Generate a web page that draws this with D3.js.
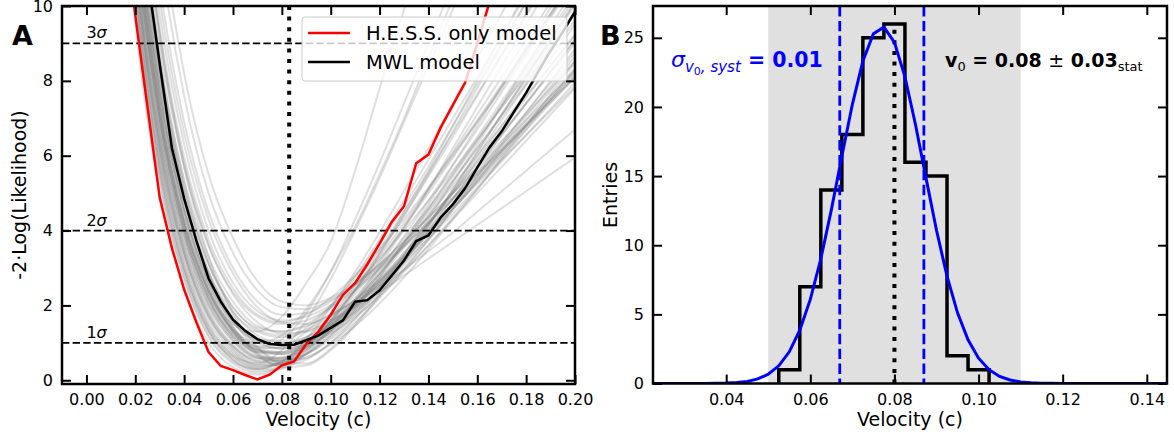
<!DOCTYPE html>
<html>
<head>
<meta charset="utf-8">
<script src="https://cdn.jsdelivr.net/npm/d3@7"></script>
<style>
  body { margin: 0; background: #fff; }
  text { font-family: "DejaVu Sans", sans-serif; fill: #000; }
</style>
</head>
<body>
<svg id="chart" width="1174" height="438"></svg>
<script>
// ---- Panel A data: likelihood profiles ----
const scanVelocity = [0.01, 0.02, 0.03, 0.04, 0.05, 0.06, 0.07, 0.08, 0.09, 0.10,
                      0.11, 0.12, 0.13, 0.14, 0.15, 0.16, 0.17, 0.18, 0.19, 0.20];
// simulated MWL scans (gray band)
const mcScans = [
  [19, 10.5, 5.6, 2.9, 1.3, 0.6, 0.35, 0.45, 0.9, 1.6, 2.4, 3.3, 4.2, 5.1, 6.0, 6.9, 7.8, 8.8, 9.8, 10.8],
  [20, 11.2, 6.3, 3.4, 1.7, 0.9, 0.55, 0.6, 0.95, 1.5, 2.2, 3.0, 3.8, 4.6, 5.5, 6.4, 7.3, 8.2, 9.1, 10.0],
  [21, 12.0, 7.0, 4.0, 2.2, 1.2, 0.8, 0.75, 1.0, 1.45, 2.0, 2.7, 3.4, 4.2, 5.0, 5.8, 6.6, 7.4, 8.2, 9.0],
  [22, 12.8, 7.6, 4.5, 2.6, 1.55, 1.05, 0.95, 1.15, 1.55, 2.05, 2.65, 3.3, 4.0, 4.7, 5.4, 6.1, 6.8, 7.5, 8.2],
  [23, 13.6, 8.3, 5.1, 3.1, 1.95, 1.35, 1.2, 1.35, 1.7, 2.15, 2.7, 3.3, 3.95, 4.6, 5.25, 5.9, 6.55, 7.2, 7.85],
  [24, 14.5, 9.0, 5.7, 3.6, 2.35, 1.7, 1.5, 1.6, 1.95, 2.4, 2.95, 3.55, 4.2, 4.85, 5.5, 6.15, 6.8, 7.45, 8.1],
  [18, 9.6, 5.0, 2.5, 1.0, 0.35, 0.15, 0.35, 0.85, 1.55, 2.4, 3.4, 4.5, 5.6, 6.8, 8.0, 9.2, 10.4, 11.6, 12.8],
  [19.5, 10.8, 5.9, 3.1, 1.45, 0.65, 0.3, 0.35, 0.75, 1.35, 2.1, 2.95, 3.85, 4.8, 5.75, 6.7, 7.7, 8.7, 9.7, 10.7],
  [20.5, 11.5, 6.5, 3.6, 1.85, 0.95, 0.5, 0.45, 0.7, 1.15, 1.75, 2.45, 3.2, 4.0, 4.85, 5.7, 6.55, 7.4, 8.25, 9.1],
  [21.5, 12.3, 7.2, 4.2, 2.35, 1.3, 0.8, 0.7, 0.9, 1.3, 1.85, 2.5, 3.2, 3.95, 4.75, 5.55, 6.35, 7.15, 7.95, 8.75],
  [22.5, 13.0, 7.9, 4.8, 2.85, 1.7, 1.1, 0.95, 1.1, 1.45, 1.95, 2.55, 3.2, 3.9, 4.6, 5.35, 6.1, 6.85, 7.6, 8.35],
  [25, 15.5, 9.8, 6.3, 4.0, 2.6, 1.85, 1.6, 1.7, 2.0, 2.45, 3.0, 3.6, 4.25, 4.9, 5.55, 6.2, 6.85, 7.5, 8.15],
  [26, 16.5, 10.6, 6.9, 4.5, 3.0, 2.1, 1.75, 1.8, 2.1, 2.55, 3.1, 3.7, 4.35, 5.0, 5.65, 6.3, 6.95, 7.6, 8.25],
  [20, 11.0, 6.0, 3.2, 1.5, 0.7, 0.35, 0.5, 1.1, 1.95, 2.9, 3.95, 5.05, 6.2, 7.4, 8.6, 9.8, 11, 12.2, 13.4],
  [21, 11.8, 6.7, 3.8, 2.0, 1.05, 0.6, 0.6, 0.95, 1.55, 2.3, 3.15, 4.1, 5.1, 6.1, 7.1, 8.1, 9.1, 10.1, 11.1],
  [22, 12.5, 7.4, 4.35, 2.5, 1.4, 0.9, 0.85, 1.15, 1.7, 2.4, 3.2, 4.1, 5.0, 5.95, 6.9, 7.85, 8.8, 9.75, 10.7],
  [23.5, 14.0, 8.6, 5.35, 3.3, 2.1, 1.45, 1.3, 1.5, 1.95, 2.55, 3.25, 4.0, 4.8, 5.6, 6.45, 7.3, 8.15, 9.0, 9.85],
  [21, 12, 7.0, 4.0, 2.2, 1.25, 0.9, 1.1, 1.8, 2.9, 4.3, 5.8, 7.4, 9.0, 10.6, 12.2, 13.8, 15.4, 17, 18.6],
  [22, 12.5, 7.3, 4.2, 2.4, 1.5, 1.3, 1.7, 2.6, 3.7, 5.6, 7.8, 9.9, 12, 14, 16, 18, 20, 22, 24],
  [24, 14.8, 9.2, 5.7, 3.3, 1.8, 0.9, 0.45, 0.45, 0.85, 1.5, 2.3, 3.2, 4.15, 5.1, 6.1, 7.1, 8.1, 9.1, 10.1],
  [23, 13.8, 8.4, 5.0, 2.8, 1.45, 0.7, 0.35, 0.4, 0.8, 1.45, 2.25, 3.15, 4.1, 5.1, 6.1, 7.1, 8.1, 9.1, 10.1],
  [22, 13, 7.7, 4.5, 2.5, 1.3, 0.65, 0.4, 0.55, 1.0, 1.65, 2.45, 3.35, 4.3, 5.3, 6.3, 7.35, 8.4, 9.45, 10.5],
  [23, 13.5, 8.1, 4.9, 2.9, 1.8, 1.3, 1.15, 1.3, 1.6, 1.95, 2.35, 2.8, 3.25, 3.7, 4.15, 4.6, 5.05, 5.5, 5.95],
  [24, 14.2, 8.7, 5.3, 3.15, 1.95, 1.4, 1.3, 1.45, 1.75, 2.1, 2.5, 2.95, 3.45, 3.95, 4.5, 5.05, 5.6, 6.15, 6.7],
  [20.5, 11.5, 6.6, 3.75, 2.05, 1.15, 0.75, 0.75, 1.05, 1.5, 2.0, 2.55, 3.15, 3.8, 4.45, 5.15, 5.85, 6.55, 7.25, 7.95],
  [19, 10.2, 5.4, 2.75, 1.2, 0.5, 0.3, 0.5, 0.95, 1.5, 2.15, 2.85, 3.6, 4.4, 5.2, 6.0, 6.8, 7.6, 8.4, 9.2],
  [21.5, 12.3, 7.1, 4.1, 2.3, 1.3, 0.85, 0.9, 1.3, 1.95, 2.75, 3.65, 4.65, 5.7, 6.8, 7.9, 9.0, 10.1, 11.2, 12.3],
  [25, 15, 9.4, 5.95, 3.75, 2.45, 1.75, 1.55, 1.75, 2.2, 2.8, 3.5, 4.3, 5.15, 6.05, 6.95, 7.9, 8.85, 9.8, 10.75],
  [22, 12.8, 7.6, 4.55, 2.65, 1.55, 1.0, 0.85, 1.0, 1.35, 1.8, 2.35, 2.95, 3.6, 4.3, 5.0, 5.7, 6.4, 7.1, 7.8],
  [20, 11.2, 6.2, 3.4, 1.7, 0.8, 0.4, 0.4, 0.7, 1.2, 1.8, 2.5, 3.3, 4.15, 5.05, 6.0, 6.95, 7.9, 8.85, 9.8],
  [19, 10.5, 5.7, 3.0, 1.4, 0.65, 0.45, 0.8, 1.6, 2.7, 4.0, 5.4, 6.9, 8.4, 9.9, 11.4, 12.9, 14.4, 15.9, 17.4],
  [21, 12, 7.0, 4.1, 2.3, 1.35, 1.0, 1.2, 1.9, 2.9, 4.1, 5.5, 7.0, 8.6, 10.2, 11.8, 13.4, 15, 16.6, 18.2],
  [19.5, 10.6, 5.8, 3.0, 1.35, 0.55, 0.25, 0.3, 0.7, 1.3, 2.0, 2.8, 3.65, 4.55, 5.45, 6.4, 7.35, 8.3, 9.25, 10.2],
  [20, 11.0, 6.1, 3.3, 1.6, 0.75, 0.4, 0.45, 0.8, 1.35, 2.0, 2.75, 3.55, 4.4, 5.3, 6.2, 7.1, 8.0, 8.9, 9.8],
  [20.5, 11.4, 6.4, 3.5, 1.8, 0.9, 0.5, 0.55, 0.9, 1.45, 2.1, 2.85, 3.65, 4.5, 5.35, 6.2, 7.05, 7.9, 8.75, 9.6],
  [21, 11.9, 6.8, 3.9, 2.1, 1.1, 0.65, 0.6, 0.85, 1.3, 1.9, 2.6, 3.35, 4.15, 5.0, 5.85, 6.7, 7.55, 8.4, 9.25],
  [21.5, 12.2, 7.0, 4.0, 2.2, 1.15, 0.6, 0.5, 0.7, 1.1, 1.65, 2.3, 3.0, 3.75, 4.55, 5.35, 6.15, 6.95, 7.75, 8.55],
  [22, 12.7, 7.4, 4.3, 2.4, 1.3, 0.7, 0.5, 0.6, 0.95, 1.45, 2.05, 2.75, 3.5, 4.3, 5.1, 5.95, 6.8, 7.65, 8.5],
  [22.5, 13.2, 7.8, 4.6, 2.6, 1.4, 0.75, 0.5, 0.6, 1.0, 1.55, 2.2, 2.95, 3.75, 4.6, 5.45, 6.3, 7.15, 8.0, 8.85],
  [18.5, 10.0, 5.3, 2.7, 1.15, 0.45, 0.2, 0.4, 0.9, 1.6, 2.45, 3.4, 4.4, 5.45, 6.5, 7.6, 8.7, 9.8, 10.9, 12.0],
  [19, 10.4, 5.6, 2.9, 1.3, 0.55, 0.3, 0.5, 1.0, 1.7, 2.55, 3.5, 4.5, 5.55, 6.6, 7.65, 8.7, 9.75, 10.8, 11.85],
  [21, 11.8, 6.8, 3.9, 2.15, 1.2, 0.75, 0.7, 0.95, 1.45, 2.1, 2.85, 3.7, 4.6, 5.55, 6.5, 7.45, 8.4, 9.35, 10.3],
  [22, 12.6, 7.3, 4.25, 2.4, 1.35, 0.85, 0.75, 0.95, 1.35, 1.85, 2.45, 3.1, 3.8, 4.55, 5.3, 6.05, 6.8, 7.55, 8.3],
  [23, 13.5, 8.0, 4.8, 2.8, 1.65, 1.05, 0.85, 0.95, 1.25, 1.7, 2.25, 2.9, 3.6, 4.35, 5.1, 5.9, 6.7, 7.5, 8.3],
  [24.5, 15.0, 9.3, 5.8, 3.6, 2.3, 1.55, 1.25, 1.3, 1.6, 2.05, 2.6, 3.25, 3.95, 4.7, 5.45, 6.25, 7.05, 7.85, 8.65],
  [25.5, 16, 10.2, 6.6, 4.3, 2.85, 1.95, 1.55, 1.5, 1.75, 2.15, 2.65, 3.25, 3.9, 4.6, 5.3, 6.0, 6.7, 7.4, 8.1],
  [20, 11.1, 6.2, 3.4, 1.75, 0.85, 0.45, 0.45, 0.8, 1.4, 2.15, 3.05, 4.05, 5.1, 6.2, 7.3, 8.4, 9.5, 10.6, 11.7],
  [23, 13.6, 8.2, 4.95, 2.9, 1.6, 0.85, 0.55, 0.7, 1.2, 1.9, 2.75, 3.7, 4.7, 5.75, 6.8, 7.85, 8.9, 9.95, 11.0],
  [21.5, 12.4, 7.2, 4.2, 2.4, 1.35, 0.8, 0.7, 1.0, 1.6, 2.4, 3.35, 4.4, 5.5, 6.65, 7.8, 8.95, 10.1, 11.25, 12.4],
  [22.5, 13, 7.7, 4.6, 2.7, 1.6, 1.1, 1.05, 1.4, 2.0, 2.8, 3.75, 4.8, 5.9, 7.0, 8.1, 9.2, 10.3, 11.4, 12.5],
  [20, 11.3, 6.4, 3.6, 1.95, 1.05, 0.6, 0.55, 0.85, 1.35, 1.95, 2.65, 3.4, 4.2, 5.05, 5.9, 6.8, 7.7, 8.6, 9.5],
  [23.5, 14, 8.5, 5.15, 3.1, 1.85, 1.2, 1.0, 1.15, 1.5, 2.0, 2.6, 3.3, 4.05, 4.85, 5.7, 6.55, 7.4, 8.25, 9.1],
  [27, 17.5, 11.5, 7.6, 5.0, 3.4, 2.4, 1.95, 1.9, 2.15, 2.55, 3.05, 3.6, 4.2, 4.85, 5.5, 6.15, 6.8, 7.45, 8.1],
  [28, 18.5, 12.3, 8.2, 5.5, 3.8, 2.65, 2.1, 2.0, 2.2, 2.6, 3.1, 3.7, 4.35, 5.0, 5.7, 6.4, 7.1, 7.8, 8.5]
];

const hessVelocity = [0.015, 0.020, 0.025, 0.030, 0.035, 0.040, 0.045, 0.050, 0.055, 0.060,
                      0.065, 0.070, 0.075, 0.080, 0.085, 0.090, 0.095, 0.100, 0.105, 0.110,
                      0.115, 0.120, 0.125, 0.130, 0.135, 0.140, 0.145, 0.150, 0.155, 0.160,
                      0.165, 0.170];
const hessLikelihood = [12.6, 9.75, 7.3, 4.88, 3.53, 2.42, 1.55, 0.75, 0.38, 0.27,
                        0.14, 0.02, 0.15, 0.40, 0.50, 0.97, 1.30, 1.75, 2.28, 2.60,
                        3.10, 3.65, 4.23, 4.65, 5.80, 6.03, 6.75, 7.35, 7.95, 9.00,
                        10.10, 11.1];

const mwlVelocity = [0.020, 0.025, 0.030, 0.035, 0.040, 0.045, 0.050, 0.055, 0.060, 0.065,
                     0.070, 0.075, 0.080, 0.085, 0.090, 0.095, 0.100, 0.105, 0.110, 0.115,
                     0.120, 0.125, 0.130, 0.135, 0.140, 0.145, 0.150, 0.155, 0.160, 0.165,
                     0.170, 0.175, 0.180, 0.185, 0.190, 0.195, 0.200];
const mwlLikelihood = [13.5, 10.8, 8.45, 6.2, 4.85, 3.73, 2.72, 2.1, 1.62, 1.32,
                       1.10, 0.97, 0.94, 0.95, 1.07, 1.20, 1.40, 1.60, 2.10, 2.14,
                       2.40, 2.80, 3.20, 3.72, 3.87, 4.35, 4.70, 5.13, 5.68, 6.22,
                       6.65, 7.17, 7.68, 8.25, 8.80, 9.30, 9.85];

const sigmaLevels = [1, 4, 9];
const sigmaNames = ["1", "2", "3"];
const bestVelocityA = 0.083;
const ticksXA = [0.00, 0.02, 0.04, 0.06, 0.08, 0.10, 0.12, 0.14, 0.16, 0.18, 0.20];
const ticksYA = [0, 2, 4, 6, 8, 10];

// ---- Panel B data: distribution of best-fit v0 ----
const binEdges = [0.0525, 0.0575, 0.0625, 0.0675, 0.0725, 0.0775, 0.0825, 0.0875, 0.0925, 0.0975, 0.1025];
const binCounts = [1, 7, 14, 18, 25, 26, 16, 15, 2, 1];
const fitVelocity = [0.0226, 0.025, 0.0275, 0.03, 0.0325, 0.035, 0.0375, 0.04, 0.0425, 0.045,
                     0.0475, 0.05, 0.0525, 0.055, 0.0575, 0.06, 0.0625, 0.065, 0.0675, 0.07,
                     0.0725, 0.075, 0.0775, 0.08, 0.0825, 0.085, 0.0875, 0.09, 0.0925, 0.095,
                     0.0975, 0.1, 0.1025, 0.105, 0.1075, 0.11, 0.1125, 0.115, 0.1175, 0.12, 0.1448];
const fitEntries = [0, 0, 0, 0, 0, 0, 0.01, 0.03, 0.07, 0.15,
                    0.33, 0.67, 1.28, 2.29, 3.85, 6.08, 9.02, 12.56, 16.43, 20.19,
                    23.32, 25.29, 25.77, 24.67, 22.18, 18.73, 14.87, 11.08, 7.76, 5.11,
                    3.16, 1.83, 1.00, 0.51, 0.25, 0.11, 0.05, 0.02, 0.01, 0, 0];
const sigmaBounds = [0.067, 0.087];
const v0Best = 0.08;
const shadedRange = [0.05, 0.11];
const ticksXB = [0.04, 0.06, 0.08, 0.10, 0.12, 0.14];
const ticksYB = [0, 5, 10, 15, 20, 25];

const svg = d3.select("#chart");

// helper: frame with inward ticks on all four sides
function drawFrame(g, x, y, xTicks, yTicks, xFmt, yFmt) {
  const [x0, x1] = x.range();
  const [y0, y1] = y.range(); // y0 bottom, y1 top
  g.append("g").attr("transform", `translate(0,${y0})`)
    .call(d3.axisBottom(x).tickValues(xTicks).tickFormat(xFmt).tickSizeInner(-9).tickSizeOuter(0).tickPadding(10));
  g.append("g").attr("transform", `translate(0,${y1})`)
    .call(d3.axisTop(x).tickValues(xTicks).tickFormat("").tickSizeInner(-9).tickSizeOuter(0));
  g.append("g").attr("transform", `translate(${x0},0)`)
    .call(d3.axisLeft(y).tickValues(yTicks).tickFormat(yFmt).tickSizeInner(-9).tickSizeOuter(0).tickPadding(9));
  g.append("g").attr("transform", `translate(${x1},0)`)
    .call(d3.axisRight(y).tickValues(yTicks).tickFormat("").tickSizeInner(-9).tickSizeOuter(0));
  g.selectAll(".domain").remove();
  g.selectAll(".tick line").attr("stroke", "#000").attr("stroke-width", 2);
  g.selectAll(".tick text").style("font-size", "16px").style("font-family", "DejaVu Sans");
  g.append("rect")
    .attr("x", x0).attr("y", y1).attr("width", x1 - x0).attr("height", y0 - y1)
    .attr("fill", "none").attr("stroke", "#000").attr("stroke-width", 2.5);
}

// ================= Panel A =================
const xA = d3.scaleLinear().domain([-0.01, 0.20]).range([62, 575]);
const yA = d3.scaleLinear().domain([-0.1, 10]).range([384, 6]);
const gA = svg.append("g");

svg.append("clipPath").attr("id", "clipA").append("rect")
  .attr("x", 62).attr("y", 6).attr("width", 513).attr("height", 378);
const plotA = gA.append("g").attr("clip-path", "url(#clipA)");

const scanLine = d3.line()
  .x((d, i) => xA(scanVelocity[i]))
  .y(d => yA(d))
  .curve(d3.curveMonotoneX);

plotA.selectAll("path.scan")
  .data(mcScans)
  .enter()
  .append("path")
  .attr("class", "scan")
  .attr("d", scanLine)
  .attr("fill", "none")
  .attr("stroke", "#808080")
  .attr("stroke-opacity", 0.25)
  .attr("stroke-width", 2);

// sigma levels
plotA.selectAll("line.sig")
  .data(sigmaLevels)
  .enter()
  .append("line")
  .attr("class", "sig")
  .attr("x1", 62).attr("x2", 575)
  .attr("y1", d => yA(d)).attr("y2", d => yA(d))
  .attr("stroke", "#000")
  .attr("stroke-width", 1.8)
  .attr("stroke-dasharray", "7.4,3.2");

const sigText = gA.selectAll("text.sig")
  .data(sigmaLevels)
  .enter()
  .append("text")
  .attr("class", "sig")
  .attr("x", xA(0.0))
  .attr("y", d => yA(d) - 5)
  .style("font-size", "16px");
sigText.append("tspan").text((d, i) => sigmaNames[i]);
sigText.append("tspan").style("font-style", "italic").text("σ");

// best velocity (dotted)
plotA.append("line")
  .attr("x1", xA(bestVelocityA)).attr("x2", xA(bestVelocityA))
  .attr("y1", 6).attr("y2", 384)
  .attr("stroke", "#000")
  .attr("stroke-width", 4)
  .attr("stroke-dasharray", "4,6.6");

plotA.append("path")
  .attr("d", d3.line().x((d, i) => xA(hessVelocity[i])).y(d => yA(d))(hessLikelihood))
  .attr("fill", "none").attr("stroke", "#ff0000").attr("stroke-width", 2.5);

plotA.append("path")
  .attr("d", d3.line().x((d, i) => xA(mwlVelocity[i])).y(d => yA(d))(mwlLikelihood))
  .attr("fill", "none").attr("stroke", "#000").attr("stroke-width", 2.5);

drawFrame(gA, xA, yA, ticksXA, ticksYA, d3.format(".2f"), d3.format("d"));

// legend
const legend = gA.append("g");
legend.append("rect")
  .attr("x", 302).attr("y", 17).attr("width", 265).attr("height", 64).attr("rx", 3)
  .attr("fill", "#fff").attr("fill-opacity", 0.8)
  .attr("stroke", "#cccccc").attr("stroke-width", 1);
const legendItems = [["H.E.S.S. only model", "#ff0000"], ["MWL model", "#000"]];
legendItems.forEach(([label, color], i) => {
  const yy = 33 + i * 29;
  legend.append("line")
    .attr("x1", 308).attr("x2", 350).attr("y1", yy).attr("y2", yy)
    .attr("stroke", color).attr("stroke-width", 2.5);
  legend.append("text")
    .attr("x", 366).attr("y", yy + 7)
    .style("font-size", "19.5px")
    .text(label);
});

gA.append("text")
  .attr("x", xA.range()[0] + (xA.range()[1] - xA.range()[0]) / 2)
  .attr("y", 426)
  .attr("text-anchor", "middle")
  .style("font-size", "19px")
  .text("Velocity (c)");

gA.append("text")
  .attr("transform", "translate(26,195) rotate(-90)")
  .attr("text-anchor", "middle")
  .style("font-size", "19px")
  .text("-2·Log(Likelihood)");

gA.append("text")
  .attr("x", 12).attr("y", 45)
  .style("font-size", "27px").style("font-weight", "bold")
  .text("A");

// ================= Panel B =================
const xB = d3.scaleLinear().domain([0.0226, 0.1448]).range([653, 1167]);
const yB = d3.scaleLinear().domain([0, 27.3]).range([383.5, 6]);
const gB = svg.append("g");

svg.append("clipPath").attr("id", "clipB").append("rect")
  .attr("x", 653).attr("y", 6).attr("width", 514).attr("height", 377.5);
const plotB = gB.append("g").attr("clip-path", "url(#clipB)");

plotB.append("rect")
  .attr("x", xB(shadedRange[0])).attr("y", 6)
  .attr("width", xB(shadedRange[1]) - xB(shadedRange[0]))
  .attr("height", 377.5)
  .attr("fill", "#e0e0e0");

// histogram step outline
const stepPoints = [[binEdges[0], 0]];
binCounts.forEach((c, i) => {
  stepPoints.push([binEdges[i], c]);
  stepPoints.push([binEdges[i + 1], c]);
});
stepPoints.push([binEdges[binEdges.length - 1], 0]);

plotB.append("path")
  .attr("d", d3.line().x(d => xB(d[0])).y(d => yB(d[1]))(stepPoints))
  .attr("fill", "none")
  .attr("stroke", "#000")
  .attr("stroke-width", 3.5)
  .attr("stroke-linejoin", "miter");

plotB.append("line")
  .attr("x1", xB(v0Best)).attr("x2", xB(v0Best))
  .attr("y1", yB(0)).attr("y2", yB(d3.max(binCounts)))
  .attr("stroke", "#000")
  .attr("stroke-width", 4)
  .attr("stroke-dasharray", "4,6.6");

plotB.selectAll("line.sb")
  .data(sigmaBounds)
  .enter()
  .append("line")
  .attr("class", "sb")
  .attr("x1", d => xB(d)).attr("x2", d => xB(d))
  .attr("y1", 6).attr("y2", 383.5)
  .attr("stroke", "#0000ff")
  .attr("stroke-width", 2.8)
  .attr("stroke-dasharray", "10.4,4.5");

plotB.append("path")
  .attr("d", d3.line().x((d, i) => xB(fitVelocity[i])).y(d => yB(d))(fitEntries))
  .attr("fill", "none").attr("stroke", "#0000ff").attr("stroke-width", 3);

drawFrame(gB, xB, yB, ticksXB, ticksYB, d3.format(".2f"), d3.format("d"));

// annotations
const blueText = gB.append("text")
  .attr("x", 671).attr("y", 66.5)
  .style("white-space", "pre")
  .style("fill", "#0000ff");
blueText.append("tspan").style("font-size", "22px").style("font-style", "italic").style("fill", "#0000ff").text("σ");
blueText.append("tspan").attr("dy", 5.5).style("font-size", "15px").style("font-style", "italic").style("fill", "#0000ff").text("v");
blueText.append("tspan").attr("dy", 3).style("font-size", "11px").style("fill", "#0000ff").text("0");
blueText.append("tspan").attr("dy", -3).style("font-size", "15px").style("font-style", "italic").style("fill", "#0000ff").text(", syst");
blueText.append("tspan").attr("dy", -5.5).style("font-size", "20.5px").style("font-weight", "bold").style("fill", "#0000ff").text(" = 0.01");

const v0Text = gB.append("text")
  .attr("x", 945).attr("y", 66.7)
  .style("white-space", "pre");
v0Text.append("tspan").style("font-size", "19px").style("font-weight", "bold").text("v");
v0Text.append("tspan").attr("dy", 4).style("font-size", "13px").text("0");
v0Text.append("tspan").attr("dy", -4).style("font-size", "19px").style("font-weight", "bold").text(" = 0.08 ");
v0Text.append("tspan").style("font-size", "19px").text("±");
v0Text.append("tspan").style("font-size", "19px").style("font-weight", "bold").text(" 0.03");
v0Text.append("tspan").attr("dy", 4).style("font-size", "13px").text("stat");

gB.append("text")
  .attr("x", (653 + 1167) / 2)
  .attr("y", 426)
  .attr("text-anchor", "middle")
  .style("font-size", "19px")
  .text("Velocity (c)");

gB.append("text")
  .attr("transform", "translate(617,195) rotate(-90)")
  .attr("text-anchor", "middle")
  .style("font-size", "19px")
  .text("Entries");

gB.append("text")
  .attr("x", 600).attr("y", 45)
  .style("font-size", "27px").style("font-weight", "bold")
  .text("B");
</script>
</body>
</html>
